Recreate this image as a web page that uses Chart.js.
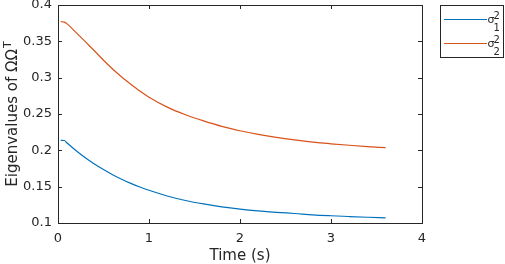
<!DOCTYPE html>
<html>
<head>
<meta charset="utf-8">
<script src="https://cdn.jsdelivr.net/npm/chart.js@4"></script>
<style>
  html, body { margin: 0; padding: 0; background: #fff; }
  #wrap { width: 505px; height: 264px; }
</style>
</head>
<body>
<div id="wrap"><canvas id="eigChart" width="505" height="264"></canvas></div>
<script>
// Data
const timeS = [0.03, 0.07, 0.1, 0.2, 0.3, 0.4, 0.5, 0.6, 0.7, 0.8, 0.9, 1.0, 1.2, 1.4, 1.6, 1.8, 2.0, 2.2, 2.4, 2.6, 2.8, 3.0, 3.2, 3.4, 3.6];
const sigma1Sq = [0.2137, 0.2135, 0.2100, 0.1995, 0.1898, 0.1812, 0.1735, 0.1665, 0.1602, 0.1546, 0.1495, 0.1450, 0.1372, 0.1310, 0.1262, 0.1223, 0.1192, 0.1167, 0.1147, 0.1131, 0.1113, 0.1100, 0.1089, 0.1079, 0.1070];
const sigma2Sq = [0.377, 0.3765, 0.374, 0.362, 0.3495, 0.337, 0.324, 0.312, 0.301, 0.291, 0.2815, 0.273, 0.2595, 0.249, 0.2405, 0.233, 0.227, 0.222, 0.2178, 0.2143, 0.2113, 0.209, 0.207, 0.2052, 0.2037];
const xTicks = [0, 1, 2, 3, 4];
const yTicks = [0.1, 0.15, 0.2, 0.25, 0.3, 0.35, 0.4];

const AXIS = '#262626';
const FONT = '"DejaVu Sans", sans-serif';

function toPoints(ys) {
  return timeS.map((t, i) => ({ x: t, y: ys[i] }));
}

// box, inward ticks, axis titles and legend (MATLAB style)
const matlabDecor = {
  id: 'matlabDecor',
  afterDraw(chart) {
    const { ctx, chartArea: a, scales } = chart;
    const xs = scales.x, ys = scales.y;
    ctx.save();
    ctx.strokeStyle = AXIS;
    ctx.lineWidth = 1;
    ctx.strokeRect(Math.round(a.left) + 0.5, Math.round(a.top) + 0.5,
      Math.round(a.right - a.left), Math.round(a.bottom - a.top));
    const tl = 4;
    ctx.beginPath();
    xTicks.forEach(v => {
      const px = Math.round(xs.getPixelForValue(v)) + 0.5;
      ctx.moveTo(px, a.bottom); ctx.lineTo(px, a.bottom - tl);
      ctx.moveTo(px, a.top); ctx.lineTo(px, a.top + tl);
    });
    yTicks.forEach(v => {
      const py = Math.round(ys.getPixelForValue(v)) + 0.5;
      ctx.moveTo(a.left, py); ctx.lineTo(a.left + tl, py);
      ctx.moveTo(a.right, py); ctx.lineTo(a.right - tl, py);
    });
    ctx.stroke();

    // x title
    ctx.fillStyle = AXIS;
    ctx.font = '15px ' + FONT;
    ctx.textAlign = 'center';
    ctx.textBaseline = 'alphabetic';
    ctx.fillText('Time (s)', (a.left + a.right) / 2, 260);

    // y title with superscript T
    const main = 'Eigenvalues of ΩΩ';
    ctx.font = '15px ' + FONT;
    const wMain = ctx.measureText(main).width;
    ctx.font = '11px ' + FONT;
    const wSup = ctx.measureText('T').width;
    const total = wMain + wSup + 1;
    ctx.translate(17, (a.top + a.bottom) / 2);
    ctx.rotate(-Math.PI / 2);
    ctx.textAlign = 'left';
    ctx.font = '15px ' + FONT;
    ctx.fillText(main, -total / 2, 0);
    ctx.font = '11px ' + FONT;
    ctx.fillText('T', -total / 2 + wMain + 1, -6);
    ctx.setTransform(1, 0, 0, 1, 0, 0);

    // legend
    ctx.strokeStyle = AXIS;
    ctx.strokeRect(440.5, 5.5, 63, 52);
    chart.data.datasets.forEach((ds, i) => {
      const y = 19.5 + i * 24;
      ctx.strokeStyle = ds.borderColor;
      ctx.lineWidth = 1.2;
      ctx.beginPath();
      ctx.moveTo(444, y); ctx.lineTo(487, y);
      ctx.stroke();
      ctx.fillStyle = AXIS;
      ctx.textAlign = 'left';
      ctx.font = '11px ' + FONT;
      ctx.fillText('σ', 487.5, y + 3.5);
      ctx.font = '10px ' + FONT;
      ctx.fillText('2', 493.5, y - 1);
      ctx.fillText(String(i + 1), 493.5, y + 11);
    });
    ctx.restore();
  }
};

new Chart(document.getElementById('eigChart'), {
  type: 'scatter',
  data: {
    datasets: [
      { label: 'σ1²', data: toPoints(sigma1Sq), borderColor: '#0072BD', borderWidth: 1.2, showLine: true, pointRadius: 0, cubicInterpolationMode: 'monotone' },
      { label: 'σ2²', data: toPoints(sigma2Sq), borderColor: '#D95319', borderWidth: 1.2, showLine: true, pointRadius: 0, cubicInterpolationMode: 'monotone' }
    ]
  },
  options: {
    responsive: false,
    animation: false,
    layout: { padding: { left: 0, right: 83, top: 5, bottom: 0 } },
    plugins: { legend: { display: false }, tooltip: { enabled: false } },
    scales: {
      x: {
        type: 'linear', min: 0, max: 4,
        afterBuildTicks: s => { s.ticks = xTicks.map(v => ({ value: v })); },
        afterFit: s => { s.height = 41; s.paddingLeft = 0; s.paddingRight = 0; },
        grid: { display: false, drawTicks: false }, border: { display: false },
        ticks: { color: AXIS, font: { family: FONT, size: 13 }, padding: 8, maxRotation: 0 }
      },
      y: {
        type: 'linear', min: 0.1, max: 0.4,
        afterBuildTicks: s => { s.ticks = yTicks.map(v => ({ value: v })); },
        afterFit: s => { s.width = 58; s.paddingTop = 0; s.paddingBottom = 0; },
        grid: { display: false, drawTicks: false }, border: { display: false },
        ticks: { color: AXIS, font: { family: FONT, size: 13 }, padding: 6, callback: v => String(v) }
      }
    }
  },
  plugins: [matlabDecor]
});
</script>
</body>
</html>
